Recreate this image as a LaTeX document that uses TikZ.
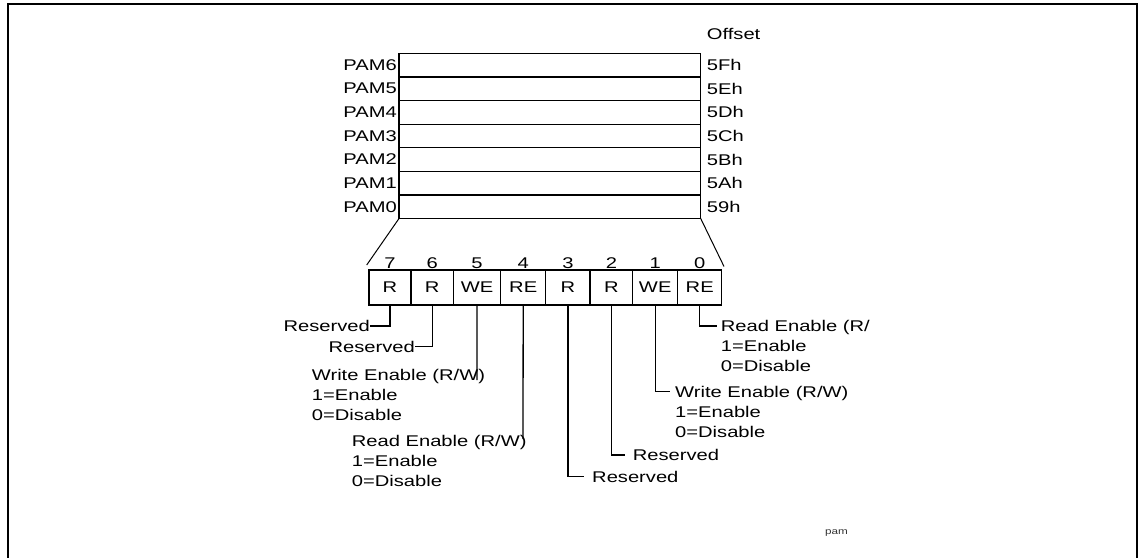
\documentclass[tikz,border=0pt]{standalone}
\usepackage{fontspec}
\setmainfont{Liberation Sans}[FakeStretch=1.3]
\usetikzlibrary{positioning}
\tikzset{
    reg/.style={
        rectangle,
        draw=black,
        line width=1.2pt,
        minimum width=301.7pt,
        minimum height=23.6pt,
        inner sep=0pt,
        outer sep=0pt
    },
    bitcell/.style={
        rectangle,
        draw=black,
        line width=1.2pt,
        minimum height=35pt,
        inner sep=0pt,
        outer sep=0pt,
        font=\fontsize{15.5}{20}\selectfont
    },
    lbl/.style={
        inner sep=0pt,
        align=left,
        font=\fontsize{15.5}{20}\selectfont
    },
    leader/.style={
        line width=1.3pt
    },
}

\begin{document}
\begin{tikzpicture}[x=1pt, y=-1pt]
\useasboundingbox (0,0) rectangle (1139,557);

% Frame
\draw[line width=2pt] (8,4) rectangle (1137,620);

% Register rows
\node[reg] (pam6) at (549.85,65.1) {};
\node[reg, below=0pt of pam6] (pam5) {};
\node[reg, below=0pt of pam5] (pam4) {};
\node[reg, below=0pt of pam4] (pam3) {};
\node[reg, below=0pt of pam3] (pam2) {};
\node[reg, below=0pt of pam2] (pam1) {};
\node[reg, below=0pt of pam1] (pam0) {};

% Register names
\node[lbl, left=2pt of pam6] (l6) {PAM6};
\node[lbl, left=2pt of pam5] (l5) {PAM5};
\node[lbl, left=2pt of pam4] (l4) {PAM4};
\node[lbl, left=2pt of pam3] (l3) {PAM3};
\node[lbl, left=2pt of pam2] (l2) {PAM2};
\node[lbl, left=2pt of pam1] (l1) {PAM1};
\node[lbl, left=2pt of pam0] (l0) {PAM0};

% Offsets
\node[lbl, right=6pt of pam6] (o6) {5Fh};
\node[lbl, right=6pt of pam5] (o5) {5Eh};
\node[lbl, right=6pt of pam4] (o4) {5Dh};
\node[lbl, right=6pt of pam3] (o3) {5Ch};
\node[lbl, right=6pt of pam2] (o2) {5Bh};
\node[lbl, right=6pt of pam1] (o1) {5Ah};
\node[lbl, right=6pt of pam0] (o0) {59h};
\node[lbl, above right=19pt and 0pt of o6.north west] (offset) {Offset};

% Bit cells
\node[bitcell, minimum width=42pt] (b7) at (390,287.5) {R};
\node[bitcell, minimum width=42.3pt, right=0pt of b7] (b6) {R};
\node[bitcell, minimum width=47.4pt, right=0pt of b6] (b5) {WE};
\node[bitcell, minimum width=45pt, right=0pt of b5] (b4) {RE};
\node[bitcell, minimum width=44.3pt, right=0pt of b4] (b3) {R};
\node[bitcell, minimum width=42.7pt, right=0pt of b3] (b2) {R};
\node[bitcell, minimum width=45pt, right=0pt of b2] (b1) {WE};
\node[bitcell, minimum width=44pt, right=0pt of b1] (b0) {RE};

% Bit numbers
\node[lbl, above=1pt of b7] (n7) {7};
\node[lbl, above=1pt of b6] (n6) {6};
\node[lbl, above=1pt of b5] (n5) {5};
\node[lbl, above=1pt of b4] (n4) {4};
\node[lbl, above=1pt of b3] (n3) {3};
\node[lbl, above=1pt of b2] (n2) {2};
\node[lbl, above=1pt of b1] (n1) {1};
\node[lbl, above=1pt of b0] (n0) {0};

% Zoom lines
\coordinate (zl) at (366.7,265);
\coordinate (zr) at (724,266.5);
\draw[line width=1pt] (pam0.south west) -- (zl);
\draw[line width=1pt] (pam0.south east) -- (zr);

% Leader ends
\coordinate (k7) at (370,326);
\coordinate (k6) at (415,346.7);
\coordinate (k5) at (477,380);
\coordinate (k4) at (523,439);
\coordinate (k3) at (584,476.7);
\coordinate (k2) at (625,455);
\coordinate (k1) at (670,391.7);
\coordinate (k0) at (716.7,326);

% Field descriptions (base is the last line)
\node[lbl, anchor=base east] (d7) at ([yshift=-5.5pt]k7) {Reserved};
\node[lbl, anchor=base east] (d6) at ([yshift=-5.5pt]k6) {Reserved};
\node[lbl, anchor=base west] (d5) at (311.7,420.5) {Write Enable (R/W)\\1=Enable\\0=Disable};
\node[lbl, anchor=base west] (d4) at (351.7,486.5) {Read Enable (R/W)\\1=Enable\\0=Disable};
\node[lbl, anchor=base west] (d3) at ([xshift=8pt, yshift=-5.5pt]k3) {Reserved};
\node[lbl, anchor=base west] (d2) at ([xshift=7.7pt, yshift=-5.5pt]k2) {Reserved};
\node[lbl, anchor=base west] (d1) at ([xshift=5pt, yshift=-45.5pt]k1) {Write Enable (R/W)\\1=Enable\\0=Disable};
\node[lbl, anchor=base west] (d0) at ([xshift=4pt, yshift=-45.5pt]k0) {Read Enable (R/\\1=Enable\\0=Disable};

% Leaders
\draw[leader] (b7.south) |- (k7);
\draw[leader] (b6.south) |- (k6);
\draw[leader] (b5.south) -- (k5);
\draw[leader] (b4.south) -- (k4);
\draw[leader] (b3.south) |- (k3);
\draw[leader] (b2.south) |- (k2);
\draw[leader] (b1.south) |- (k1);
\draw[leader] (b0.south) |- (k0);

% Figure tag
\node[inner sep=0pt, anchor=base west, text=black!80, font=\fontsize{9}{10}\selectfont] (tag) at (825,534) {pam};

\end{tikzpicture}
\end{document}
